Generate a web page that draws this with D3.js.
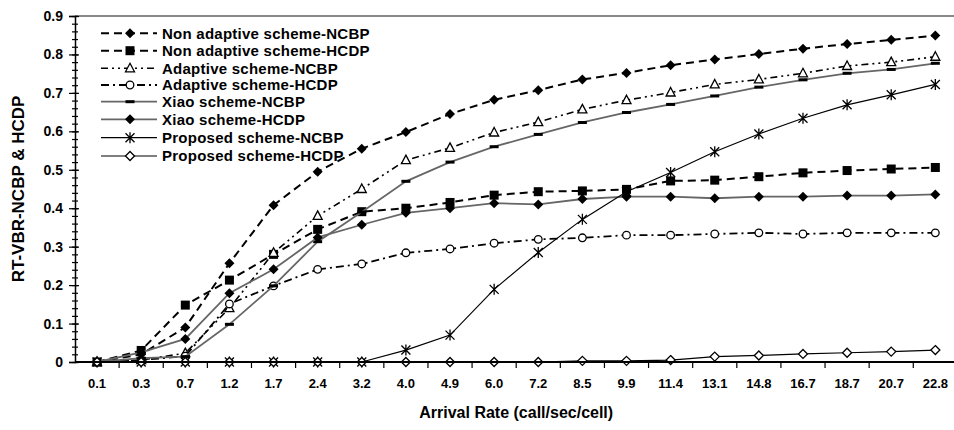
<!DOCTYPE html>
<html>
<head>
<meta charset="utf-8">
<script src="https://cdn.jsdelivr.net/npm/d3@7"></script>
<style>
  body { margin: 0; background: #fff; }
  text { font-family: "Liberation Sans", Arial, sans-serif; font-weight: bold; fill: #000; }
  .xtick text { font-family: "Liberation Sans Narrow", "Arial Narrow", "Liberation Sans", sans-serif; font-stretch: condensed; }
</style>
</head>
<body>
<script>
'use-strict';

// categories on x axis
let rates = ["0.1", "0.3", "0.7", "1.2", "1.7", "2.4", "3.2", "4.0", "4.9", "6.0",
  "7.2", "8.5", "9.9", "11.4", "13.1", "14.8", "16.7", "18.7", "20.7", "22.8"];

// y tick labels
let yTicks = [0, 0.1, 0.2, 0.3, 0.4, 0.5, 0.6, 0.7, 0.8, 0.9];

// series values
let nonAdaptiveNCBP = [0, 0.02, 0.09, 0.257, 0.408, 0.495, 0.555, 0.598, 0.645, 0.682,
  0.707, 0.735, 0.752, 0.772, 0.787, 0.801, 0.815, 0.827, 0.838, 0.849];
let nonAdaptiveHCDP = [0, 0.03, 0.148, 0.213, 0.28, 0.345, 0.391, 0.4, 0.415, 0.434,
  0.443, 0.445, 0.449, 0.471, 0.473, 0.482, 0.492, 0.498, 0.502, 0.506];
let adaptiveNCBP = [0, 0.005, 0.023, 0.14, 0.284, 0.38, 0.45, 0.525, 0.557, 0.597,
  0.624, 0.657, 0.681, 0.701, 0.722, 0.735, 0.751, 0.77, 0.78, 0.794];
let adaptiveHCDP = [0, 0.005, 0.015, 0.151, 0.198, 0.241, 0.255, 0.284, 0.294, 0.309,
  0.319, 0.323, 0.33, 0.33, 0.333, 0.336, 0.333, 0.336, 0.336, 0.336];
let xiaoNCBP = [0, 0.01, 0.014, 0.098, 0.198, 0.313, 0.39, 0.47, 0.52, 0.56,
  0.592, 0.623, 0.649, 0.67, 0.692, 0.715, 0.734, 0.751, 0.761, 0.777];
let xiaoHCDP = [0, 0.025, 0.06, 0.179, 0.241, 0.324, 0.357, 0.388, 0.4, 0.413,
  0.41, 0.424, 0.43, 0.43, 0.426, 0.43, 0.43, 0.433, 0.433, 0.436];
let proposedNCBP = [0, 0, 0, 0, 0, 0, 0, 0.031, 0.07, 0.189,
  0.285, 0.371, 0.443, 0.493, 0.547, 0.593, 0.634, 0.669, 0.695, 0.722];
let proposedHCDP = [0, 0, 0, 0, 0, 0, 0, 0, 0, 0,
  0, 0.003, 0.003, 0.005, 0.014, 0.017, 0.021, 0.024, 0.027, 0.031];

let seriesNames = ["Non adaptive scheme-NCBP", "Non adaptive scheme-HCDP",
  "Adaptive scheme-NCBP", "Adaptive scheme-HCDP", "Xiao scheme-NCBP",
  "Xiao scheme-HCDP", "Proposed scheme-NCBP", "Proposed scheme-HCDP"];
let seriesValues = [nonAdaptiveNCBP, nonAdaptiveHCDP, adaptiveNCBP, adaptiveHCDP,
  xiaoNCBP, xiaoHCDP, proposedNCBP, proposedHCDP];

// line / marker styles per series
let styles = [
  { stroke: "#000", width: 2, dash: "8,5", marker: "diamond" },
  { stroke: "#000", width: 2, dash: "8,5", marker: "square" },
  { stroke: "#000", width: 1.6, dash: "7,4,2,4,2,4", marker: "triangle" },
  { stroke: "#000", width: 1.8, dash: "8,4,2,4", marker: "circle" },
  { stroke: "#666", width: 1.8, dash: null, marker: "bar" },
  { stroke: "#666", width: 1.8, dash: null, marker: "diamond" },
  { stroke: "#000", width: 1.2, dash: null, marker: "asterisk" },
  { stroke: "#000", width: 1.2, dash: null, marker: "openDiamond" }
];

let margin = { top: 16, left: 75, bottom: 68 };
let totalWidth = 954, totalHeight = 430;
let plotRight = 957.4;
let plotBottom = totalHeight - margin.bottom;

let svg = d3.select("body").append("svg")
  .attr("width", totalWidth)
  .attr("height", totalHeight);

let x = d3.scaleBand().domain(rates).range([margin.left, plotRight]);
let y = d3.scaleLinear().domain([0, 0.9]).range([plotBottom, margin.top]);
let cx = d => x(d) + x.bandwidth() / 2;

// top border of plot area
svg.append("line")
  .attr("x1", margin.left).attr("x2", totalWidth)
  .attr("y1", y(0.9)).attr("y2", y(0.9))
  .attr("stroke", "#888").attr("stroke-width", 2);

// y axis: minor ticks both sides
let minor = d3.range(0, 0.9001, 0.02);
svg.append("g").attr("transform", "translate(" + margin.left + ",0)")
  .call(d3.axisLeft(y).tickValues(minor).tickSize(3).tickFormat(""))
  .call(g => g.select(".domain").remove());
svg.append("g").attr("transform", "translate(" + margin.left + ",0)")
  .call(d3.axisRight(y).tickValues(minor).tickSize(3).tickFormat(""))
  .call(g => g.select(".domain").remove());
svg.append("g").attr("transform", "translate(" + margin.left + ",0)")
  .call(d3.axisRight(y).tickValues(yTicks).tickSize(4).tickFormat(""))
  .call(g => g.select(".domain").remove());
let yAxis = svg.append("g").attr("transform", "translate(" + margin.left + ",0)")
  .call(d3.axisLeft(y).tickValues(yTicks).tickSize(6).tickPadding(6)
    .tickFormat(d => d === 0 ? "0" : d3.format(".1f")(d)));
yAxis.select(".domain").attr("stroke-width", 1.5);
yAxis.selectAll("text").style("font-size", "14px");
svg.selectAll(".tick line").attr("stroke", "#000").attr("stroke-width", 1.2);

// x axis: labels at band centers, ticks between categories
let xAxis = svg.append("g").attr("class", "xtick")
  .attr("transform", "translate(0," + plotBottom + ")")
  .call(d3.axisBottom(x).tickSize(0).tickPadding(17));
xAxis.select(".domain").remove();
xAxis.selectAll("text").style("font-size", "13px");
svg.append("g").selectAll("line")
  .data(rates.slice(1))
  .enter().append("line")
  .attr("x1", d => x(d)).attr("x2", d => x(d))
  .attr("y1", plotBottom).attr("y2", plotBottom + 6)
  .attr("stroke", "#000").attr("stroke-width", 1.2);

// marker drawing
function drawMarker(g, type) {
  if (type === "diamond") {
    g.append("path").attr("d", "M0,-5L5,0L0,5L-5,0Z").attr("fill", "#000");
  } else if (type === "openDiamond") {
    g.append("path").attr("d", "M0,-4.5L4.5,0L0,4.5L-4.5,0Z")
      .attr("fill", "#fff").attr("stroke", "#000").attr("stroke-width", 1.3);
  } else if (type === "square") {
    g.append("rect").attr("x", -4.5).attr("y", -4.5).attr("width", 9).attr("height", 9).attr("fill", "#000");
  } else if (type === "triangle") {
    g.append("path").attr("d", "M0,-5 L4.5,3.5 L-4.5,3.5 Z")
      .attr("fill", "#fff").attr("stroke", "#000").attr("stroke-width", 1.3);
  } else if (type === "circle") {
    g.append("circle").attr("r", 3.8)
      .attr("fill", "#fff").attr("stroke", "#000").attr("stroke-width", 1.3);
  } else if (type === "bar") {
    g.append("rect").attr("x", -4.5).attr("y", -1.5).attr("width", 9).attr("height", 3).attr("fill", "#000");
  } else if (type === "asterisk") {
    g.append("path").attr("d", "M-4.5,-4.5L4.5,4.5M-4.5,4.5L4.5,-4.5M0,-5.5L0,5.5")
      .attr("stroke", "#000").attr("stroke-width", 1.3).attr("fill", "none");
  }
}

let line = d3.line().x(d => cx(d[0])).y(d => y(d[1]));

// draw series in order
seriesValues.forEach((vals, i) => {
  let st = styles[i];
  let pts = rates.map((r, k) => [r, vals[k]]);
  svg.append("path")
    .datum(pts)
    .attr("d", line)
    .attr("fill", "none")
    .attr("stroke", st.stroke)
    .attr("stroke-width", st.width)
    .attr("stroke-dasharray", st.dash);
  pts.forEach(p => {
    let g = svg.append("g").attr("transform", "translate(" + cx(p[0]) + "," + y(p[1]) + ")");
    drawMarker(g, st.marker);
  });
});

// x axis line drawn over markers
svg.append("line")
  .attr("x1", margin.left).attr("x2", totalWidth)
  .attr("y1", plotBottom).attr("y2", plotBottom)
  .attr("stroke", "#000").attr("stroke-width", 2);

// legend
let legendY = [33.3, 50.7, 68.3, 85, 101.7, 119.3, 137.7, 156];
seriesNames.forEach((name, i) => {
  let st = styles[i];
  let g = svg.append("g").attr("transform", "translate(0," + legendY[i] + ")");
  g.append("line")
    .attr("x1", 101).attr("x2", 157)
    .attr("stroke", st.stroke)
    .attr("stroke-width", st.width)
    .attr("stroke-dasharray", st.dash);
  drawMarker(g.append("g").attr("transform", "translate(130,0)"), st.marker);
  g.append("text")
    .attr("x", 162).attr("dy", "0.35em")
    .style("font-size", "15px")
    .style("letter-spacing", "0.25px")
    .text(name);
});

// axis titles
svg.append("text")
  .attr("transform", "translate(" + ((margin.left + plotRight) / 2) + "," + 418 + ")")
  .style("text-anchor", "middle")
  .style("font-size", "16px")
  .text("Arrival Rate (call/sec/cell)");

svg.append("text")
  .attr("transform", "translate(24," + ((margin.top + plotBottom) / 2) + ") rotate(-90)")
  .style("text-anchor", "middle")
  .style("font-size", "17px")
  .text("RT-VBR-NCBP & HCDP");
</script>
</body>
</html>
